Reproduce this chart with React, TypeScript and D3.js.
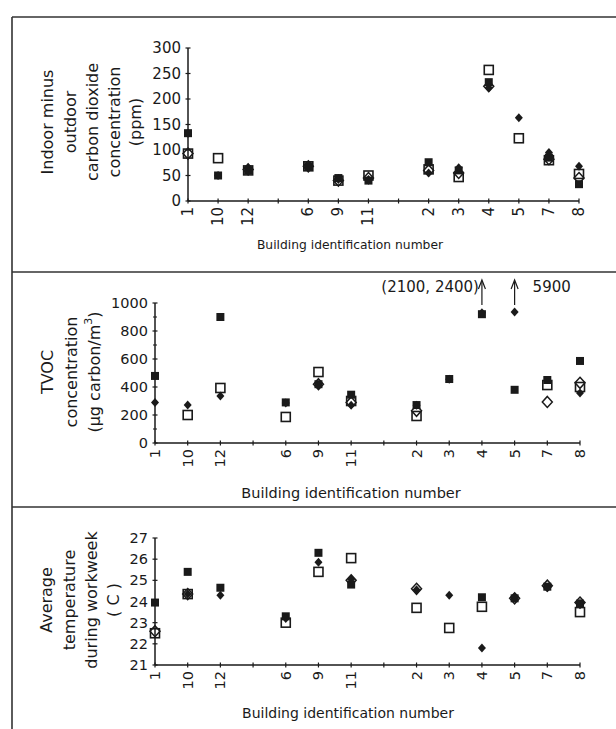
import React from "react";
import * as d3 from "d3";

// ---- data ----
const slots = ["1", "10", "12", "g1", "6", "9", "11", "g2", "2", "3", "4", "5", "7", "8"];
const slotLabels = ["1", "10", "12", "", "6", "9", "11", "", "2", "3", "4", "5", "7", "8"];

// CO2 (indoor minus outdoor, ppm)
const co2FilledSq = [133, 50, 60, null, 68, 45, 40, null, 76, 60, 233, null, 85, 33];
const co2FilledDi = [133, 50, 65, null, 68, 42, 42, null, 55, 65, 222, 163, 95, 68];
const co2OpenSq = [93, 84, 60, null, 68, 40, 50, null, 62, 47, 257, 123, 80, 53];
const co2OpenDi = [93, null, 62, null, 68, 40, 45, null, 60, 55, 225, null, 82, 45];
const co2Ticks = [0, 50, 100, 150, 200, 250, 300];

// TVOC (µg carbon/m3)
const tvocFilledSq = [479, null, 900, null, 290, 420, 345, null, 271, 457, 920, 380, 450, 586];
const tvocFilledDi = [290, 271, 336, null, 286, 414, 270, null, 270, 455, 930, 935, null, 357];
const tvocOpenSq = [null, 200, 393, null, 186, 507, 300, null, 193, null, null, null, 414, 400];
const tvocOpenDi = [null, null, null, null, null, 420, 290, null, 230, null, null, null, 293, 430];
const tvocTicks = [0, 200, 400, 600, 800, 1000];
const tvocMinor = [100, 300, 500, 700, 900];
const tvocOffscale = [
  { slot: "4", label: "(2100, 2400)", side: "left" },
  { slot: "5", label: "5900", side: "right" },
];

// Temperature (C)
const tempFilledSq = [23.95, 25.4, 24.65, null, 23.3, 26.3, 24.8, null, null, null, 24.2, 24.15, 24.7, 23.9];
const tempFilledDi = [null, 24.35, 24.3, null, 23.2, 25.85, 25.05, null, 24.55, 24.3, 21.8, 24.2, 24.65, 23.9];
const tempOpenSq = [22.5, 24.35, null, null, 23.0, 25.4, 26.05, null, 23.7, 22.75, 23.75, null, null, 23.5];
const tempOpenDi = [22.6, 24.35, null, null, null, null, 25.0, null, 24.6, null, null, 24.15, 24.75, 23.95];
const tempTicks = [21, 22, 23, 24, 25, 26, 27];

const FONT = "'DejaVu Sans', sans-serif";
const INK = "#1a1a1a";

type Series = { values: (number | null)[]; kind: "fsq" | "fdi" | "osq" | "odi" };

function Marker({ kind, x, y }: { kind: string; x: number; y: number }) {
  if (kind === "fsq") return <rect x={x - 4} y={y - 4} width={8} height={8} fill={INK} />;
  if (kind === "fdi")
    return <path d={`M${x},${y - 4.5}L${x + 4},${y}L${x},${y + 4.5}L${x - 4},${y}Z`} fill={INK} />;
  if (kind === "osq")
    return <rect x={x - 4.5} y={y - 4.5} width={9} height={9} fill="none" stroke={INK} strokeWidth={1.6} />;
  return (
    <path d={`M${x},${y - 5.5}L${x + 5},${y}L${x},${y + 5.5}L${x - 5},${y}Z`} fill="none" stroke={INK} strokeWidth={1.5} />
  );
}

function Panel(props: {
  x0: number; x1: number; yTop: number; yBot: number;
  domain: [number, number]; ticks: number[]; minor?: number[];
  labelFont: number;
  series: Series[]; titleLines: React.ReactNode[]; titleXs: number[]; titleY: number; titleFont: number;
  xTitleX: number; xTitleY: number; xTitleFont: number; children?: React.ReactNode;
}) {
  const x = d3.scalePoint<string>().domain(slots).range([props.x0, props.x1]);
  const y = d3.scaleLinear().domain(props.domain).range([props.yBot, props.yTop]);
  const base = props.yBot;
  return (
    <g fontFamily={FONT} fill={INK}>
      <line x1={props.x0} x2={props.x0} y1={props.yTop} y2={base} stroke={INK} strokeWidth={1.5} />
      <line x1={props.x0} x2={props.x1} y1={base} y2={base} stroke={INK} strokeWidth={1.5} />
      {props.ticks.map((t) => (
        <g key={"yt" + t}>
          <line x1={props.x0 - 2.5} x2={props.x0 + 2.5} y1={y(t)} y2={y(t)} stroke={INK} strokeWidth={1.2} />
          <text x={props.x0 - 7} y={y(t)} textAnchor="end" dominantBaseline="central" fontSize={props.labelFont}>
            {t}
          </text>
        </g>
      ))}
      {(props.minor || []).map((t) => (
        <line key={"ym" + t} x1={props.x0 - 2} x2={props.x0 + 2} y1={y(t)} y2={y(t)} stroke={INK} strokeWidth={1} />
      ))}
      {slots.map((s, i) => (
        <g key={"xt" + s}>
          <line x1={x(s)!} x2={x(s)!} y1={base - 2.5} y2={base + 2.5} stroke={INK} strokeWidth={1.2} />
          {slotLabels[i] && (
            <text
              transform={`translate(${x(s)},${base + 6}) rotate(-90)`}
              textAnchor="end"
              dominantBaseline="central"
              fontSize={props.labelFont}
            >
              {slotLabels[i]}
            </text>
          )}
        </g>
      ))}
      {props.series.map((se) =>
        se.values.map((v, i) =>
          v == null ? null : <Marker key={se.kind + i} kind={se.kind} x={x(slots[i])!} y={y(v)} />
        )
      )}
      {props.titleLines.map((line, i) => (
        <text
          key={"tl" + i}
          transform={`translate(${props.titleXs[i]},${props.titleY}) rotate(-90)`}
          textAnchor="middle"
          dominantBaseline="central"
          fontSize={props.titleFont}
        >
          {line}
        </text>
      ))}
      <text x={props.xTitleX} y={props.xTitleY} textAnchor="middle" dominantBaseline="central" fontSize={props.xTitleFont}>
        Building identification number
      </text>
      {props.children}
    </g>
  );
}

export default function App() {
  const W = 616, H = 729;
  const xP2 = d3.scalePoint<string>().domain(slots).range([155, 580]);
  return (
    <svg width={W} height={H} style={{ position: "absolute", left: 0, top: 0, background: "#fff" }}>
      <rect width={W} height={H} fill="#fff" />
      {/* frame */}
      <line x1={12} x2={12} y1={17} y2={729} stroke="#333" strokeWidth={1.6} />
      <line x1={12} x2={616} y1={17} y2={17} stroke="#333" strokeWidth={1.6} />
      <line x1={12} x2={616} y1={272} y2={272} stroke="#333" strokeWidth={1.6} />
      <line x1={12} x2={616} y1={507} y2={507} stroke="#333" strokeWidth={1.6} />

      <Panel
        x0={188} x1={579} yTop={48} yBot={201} domain={[0, 300]} ticks={co2Ticks} labelFont={15}
        series={[
          { values: co2OpenSq, kind: "osq" },
          { values: co2OpenDi, kind: "odi" },
          { values: co2FilledSq, kind: "fsq" },
          { values: co2FilledDi, kind: "fdi" },
        ]}
        titleLines={["Indoor minus", "outdoor", "carbon dioxide", "concentration", "(ppm)"]}
        titleXs={[47, 70, 92, 114, 135]} titleY={122} titleFont={16}
        xTitleX={350} xTitleY={245} xTitleFont={12.3}
      />

      <Panel
        x0={155} x1={580} yTop={303} yBot={443} domain={[0, 1000]} ticks={tvocTicks} minor={tvocMinor} labelFont={14.5}
        series={[
          { values: tvocOpenSq, kind: "osq" },
          { values: tvocOpenDi, kind: "odi" },
          { values: tvocFilledSq, kind: "fsq" },
          { values: tvocFilledDi, kind: "fdi" },
        ]}
        titleLines={[
          "TVOC",
          "concentration",
          <tspan key="u">(µg carbon/m<tspan fontSize={11} dy={-6}>3</tspan><tspan dy={6}>)</tspan></tspan>,
        ]}
        titleXs={[47, 71, 94]} titleY={372} titleFont={16}
        xTitleX={351} xTitleY={493} xTitleFont={14.5}
      >
        {tvocOffscale.map((o) => {
          const ax = xP2(o.slot)!;
          return (
            <g key={o.slot}>
              <line x1={ax} x2={ax} y1={305} y2={282} stroke={INK} strokeWidth={1.2} />
              <path d={`M${ax - 3.5},${289}L${ax},${280}L${ax + 3.5},${289}`} fill="none" stroke={INK} strokeWidth={1.2} />
              <text
                x={o.side === "left" ? ax - 3 : ax + 18}
                y={287}
                textAnchor={o.side === "left" ? "end" : "start"}
                dominantBaseline="central"
                fontSize={15}
              >
                {o.label}
              </text>
            </g>
          );
        })}
      </Panel>

      <Panel
        x0={155} x1={580} yTop={538} yBot={665} domain={[21, 27]} ticks={tempTicks} labelFont={14.5}
        series={[
          { values: tempOpenSq, kind: "osq" },
          { values: tempOpenDi, kind: "odi" },
          { values: tempFilledSq, kind: "fsq" },
          { values: tempFilledDi, kind: "fdi" },
        ]}
        titleLines={["Average", "temperature", "during workweek", "( C )"]}
        titleXs={[46, 69, 91, 113]} titleY={600} titleFont={16}
        xTitleX={348} xTitleY={713} xTitleFont={14}
      />
    </svg>
  );
}
